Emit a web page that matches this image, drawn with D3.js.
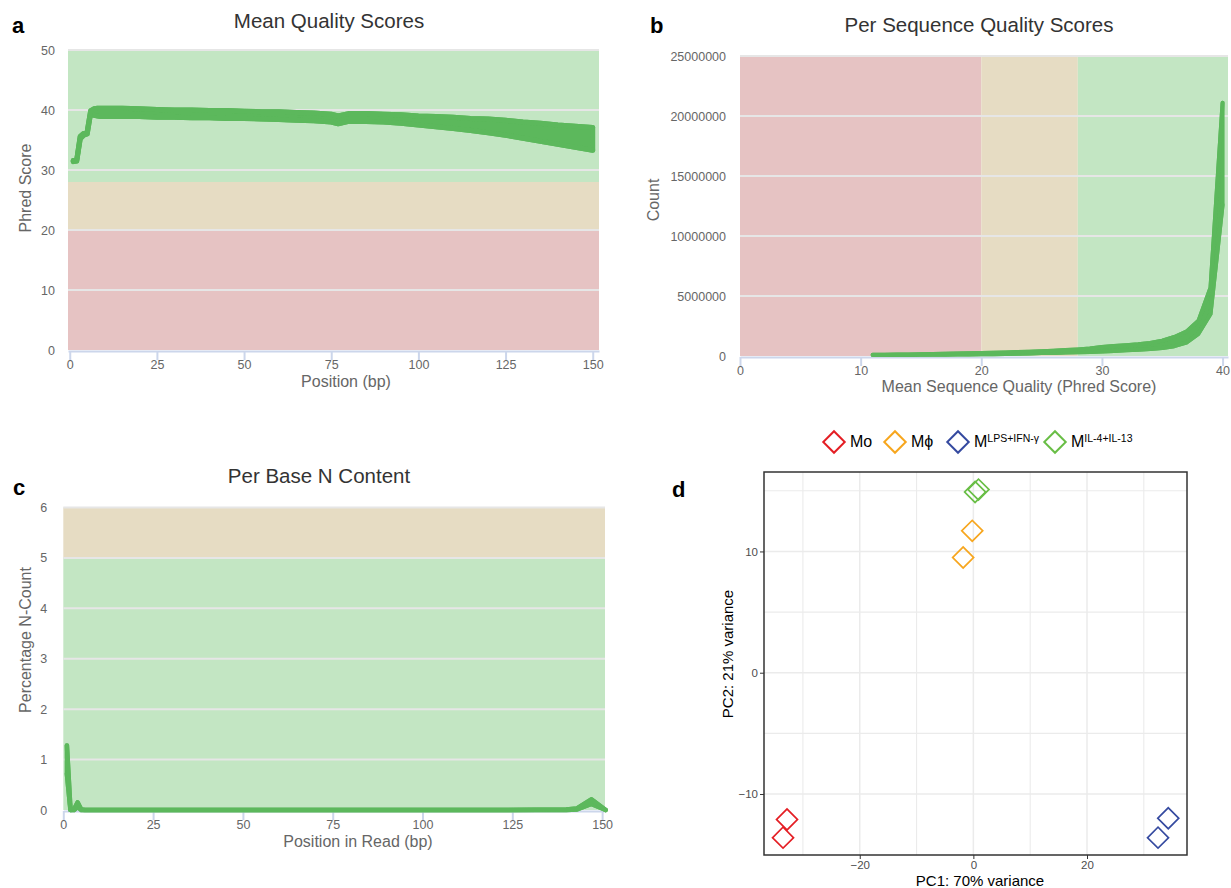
<!DOCTYPE html>
<html>
    <head>
        <meta charset="utf-8">
        <script src="https://d3js.org/d3.v7.min.js"></script>
        <style>
            body { margin: 0; background: #fff; }
            text { font-family: Arial, "Liberation Sans", Helvetica, sans-serif; }
        </style>
    </head>
    <body>

        <script>
            // ---- a: mean quality scores (two edge samples of the band)
            var qualPos  = [1, 2, 3, 4, 5, 6, 7, 8, 9, 10, 15, 20, 25, 30, 35, 40, 45, 50, 55, 60, 65, 70, 75, 77, 80, 85, 90, 95, 100, 105, 110, 115, 120, 125, 130, 135, 140, 145, 150];
            var qualHigh = [31.6, 31.7, 35.6, 36.1, 36.4, 39.9, 40.2, 40.3, 40.3, 40.3, 40.3, 40.2, 40.1, 40.0, 40.0, 39.9, 39.9, 39.8, 39.7, 39.7, 39.6, 39.5, 39.3, 39.0, 39.4, 39.4, 39.3, 39.2, 39.0, 38.9, 38.8, 38.6, 38.5, 38.3, 38.0, 37.8, 37.5, 37.3, 37.1];
            var qualLow  = [31.4, 31.5, 35.2, 35.8, 36.0, 39.5, 39.1, 39.0, 38.9, 38.9, 38.9, 38.9, 38.8, 38.8, 38.7, 38.7, 38.6, 38.6, 38.5, 38.4, 38.3, 38.2, 38.0, 37.7, 38.1, 38.1, 38.0, 37.8, 37.5, 37.2, 36.9, 36.6, 36.2, 35.8, 35.3, 34.8, 34.3, 33.8, 33.3];
            var qualBands = [0, 20, 28, 50];

            // ---- b: per sequence quality scores
            var seqScore = [11, 12, 13, 14, 15, 16, 17, 18, 19, 20, 21, 22, 23, 24, 25, 26, 27, 28, 29, 30, 31, 32, 33, 34, 35, 36, 37, 38, 39, 40];
            var seqHigh  = [1.0e5, 1.1e5, 1.2e5, 1.3e5, 1.5e5, 1.6e5, 1.8e5, 2.0e5, 2.2e5, 2.5e5, 2.7e5, 3.0e5, 3.3e5, 3.6e5, 4.0e5, 4.4e5, 4.9e5, 5.5e5, 6.3e5, 7.5e5, 8.4e5, 9.0e5, 9.7e5, 1.08e6, 1.28e6, 1.58e6, 2.03e6, 2.93e6, 5.7e6, 2.11e7];
            var seqLow   = [0.8e5, 0.8e5, 0.9e5, 0.9e5, 1.0e5, 1.0e5, 1.1e5, 1.2e5, 1.3e5, 1.4e5, 1.5e5, 1.7e5, 1.9e5, 2.1e5, 2.4e5, 2.6e5, 2.9e5, 3.1e5, 3.4e5, 3.8e5, 4.2e5, 4.7e5, 5.3e5, 5.9e5, 6.7e5, 8.2e5, 1.12e6, 1.85e6, 3.5e6, 1.26e7];
            var seqBands = [0, 20, 28, 40.45];

            // ---- c: per base N content
            var nPos  = [1, 2, 3, 4, 5, 6, 20, 40, 60, 80, 100, 120, 140, 143, 147, 151];
            var nHigh = [1.28, 0.0, 0.02, 0.15, 0.01, 0.0, 0.0, 0.0, 0.0, 0.0, 0.0, 0.0, 0.01, 0.03, 0.21, 0.0];
            var nLow  = [0.72, 0.0, 0.0, 0.06, 0.0, 0.0, 0.0, 0.0, 0.0, 0.0, 0.0, 0.0, 0.0, 0.01, 0.12, 0.0];
            var nBands = [0, 5, 6];

            // ---- d: PCA
            var groups      = ['Mo', 'Mϕ', 'M', 'M'];
            var groupSup    = ['', '', 'LPS+IFN-γ', 'IL-4+IL-13'];
            var groupColors = ['#e41e24', '#f7a61e', '#354aa0', '#69be46'];
            var pc1         = [-32.8, -33.5, -0.2, -1.8, 34.3, 32.5, 0.3, 0.9];
            var pc2         = [-12.1, -13.6, 11.7, 9.5, -12.0, -13.6, 14.9, 15.1];
            var sampleGroup = [0, 0, 1, 1, 2, 2, 3, 3];

            var GOOD = '#c3e6c3', WARN = '#e6dcc3', FAIL = '#e6c3c3', LINE = '#5cb85c';

            var svg = d3.select('body')
                        .append('svg')
                        .attr('width', 1231)
                        .attr('height', 888);

            // Highcharts-like MultiQC panel
            function qcPanel(o) {
                var g = svg.append('g');
                var xr = o.x.range(), yr = o.y.range();

                // plot bands (horizontal on y, or vertical on x)
                for (var i = 0; i < o.bands.length - 1; i++) {
                    var r = g.append('rect').attr('fill', o.bandColors[i]);
                    if (o.bandAxis === 'x') {
                        r.attr('x', o.x(o.bands[i]))
                         .attr('width', o.x(o.bands[i + 1]) - o.x(o.bands[i]))
                         .attr('y', yr[1])
                         .attr('height', yr[0] - yr[1]);
                    } else {
                        r.attr('x', xr[0])
                         .attr('width', xr[1] - xr[0])
                         .attr('y', o.y(o.bands[i + 1]))
                         .attr('height', o.y(o.bands[i]) - o.y(o.bands[i + 1]));
                    }
                }

                // grid lines
                g.selectAll('.grid')
                    .data(o.yTicks.filter(function(t) { return t > 0; }))
                    .enter().append('line')
                        .attr('x1', xr[0]).attr('x2', xr[1])
                        .attr('y1', function(d) { return o.y(d); })
                        .attr('y2', function(d) { return o.y(d); })
                        .attr('stroke', '#e6e6e6')
                        .attr('stroke-width', 2);

                // x axis
                var ax = g.append('g')
                    .attr('transform', 'translate(0,' + (yr[0] + 1) + ')')
                    .call(d3.axisBottom(o.x).tickValues(o.xTicks).tickSize(9).tickSizeOuter(0).tickPadding(0));
                ax.select('.domain').attr('stroke', '#ccd6eb').attr('stroke-width', 2);
                ax.selectAll('.tick line').attr('stroke', '#ccd6eb').attr('stroke-width', 2);
                ax.selectAll('.tick text').attr('fill', '#666').style('font-size', '12.5px');

                // data band, drawn over the axis line
                var area = d3.area()
                    .x(function(d) { return o.x(d[0]); })
                    .y0(function(d) { return o.y(d[1]); })
                    .y1(function(d) { return o.y(d[2]); });
                var rows = o.xs.map(function(v, i) { return [v, o.low[i], o.high[i]]; });
                g.append('path')
                    .attr('d', area(rows))
                    .attr('fill', LINE)
                    .attr('stroke', LINE)
                    .attr('stroke-width', o.lineWidth)
                    .attr('stroke-linejoin', 'round');
                [o.low, o.high].forEach(function(s) {
                    var line = d3.line()
                        .x(function(d, i) { return o.x(o.xs[i]); })
                        .y(function(d) { return o.y(d); });
                    g.append('path')
                        .attr('d', line(s))
                        .attr('fill', 'none')
                        .attr('stroke', LINE)
                        .attr('stroke-width', o.lineWidth)
                        .attr('stroke-linejoin', 'round')
                        .attr('stroke-linecap', 'round');
                });

                // y axis labels
                var ay = g.append('g')
                    .attr('transform', 'translate(' + xr[0] + ',0)')
                    .call(d3.axisLeft(o.y).tickValues(o.yTicks).tickSize(0).tickPadding(o.yPad).tickFormat(d3.format('d')));
                ay.select('.domain').remove();
                ay.selectAll('.tick text').attr('fill', '#666').style('font-size', '12.5px');

                // titles
                g.append('text')
                    .attr('x', o.titleX).attr('y', o.titleY)
                    .attr('text-anchor', 'middle')
                    .attr('fill', '#333')
                    .style('font-size', '20.5px')
                    .text(o.title);
                g.append('text')
                    .attr('x', o.xTitleX).attr('y', o.xTitleY)
                    .attr('text-anchor', 'middle')
                    .attr('fill', '#666')
                    .style('font-size', '16px')
                    .text(o.xTitle);
                g.append('text')
                    .attr('transform', 'translate(' + o.yTitleX + ',' + o.yTitleY + ') rotate(-90)')
                    .attr('text-anchor', 'middle')
                    .attr('fill', '#666')
                    .style('font-size', '16px')
                    .text(o.yTitle);
            }

            // a
            qcPanel({
                x: d3.scaleLinear().domain([-0.5, 151.8]).range([68, 599]),
                y: d3.scaleLinear().domain([0, 50]).range([350, 50]),
                xs: qualPos, high: qualHigh, low: qualLow, lineWidth: 5,
                bands: qualBands, bandColors: [FAIL, WARN, GOOD],
                xTicks: d3.range(0, 151, 25), yTicks: d3.range(0, 51, 10), yPad: 13,
                title: 'Mean Quality Scores', titleX: 329, titleY: 28,
                xTitle: 'Position (bp)', xTitleX: 346, xTitleY: 387,
                yTitle: 'Phred Score', yTitleX: 31, yTitleY: 188
            });

            // b
            qcPanel({
                x: d3.scaleLinear().domain([0, 40.45]).range([740, 1228]),
                y: d3.scaleLinear().domain([0, 25000000]).range([356, 56]),
                xs: seqScore, high: seqHigh, low: seqLow, lineWidth: 4,
                bands: seqBands, bandColors: [FAIL, WARN, GOOD], bandAxis: 'x',
                xTicks: d3.range(0, 41, 10), yTicks: d3.range(0, 25000001, 5000000), yPad: 14,
                title: 'Per Sequence Quality Scores', titleX: 979, titleY: 32,
                xTitle: 'Mean Sequence Quality (Phred Score)', xTitleX: 1019, xTitleY: 392,
                yTitle: 'Count', yTitleX: 659, yTitleY: 200
            });

            // c
            qcPanel({
                x: d3.scaleLinear().domain([0, 150.8]).range([63.3, 605]),
                y: d3.scaleLinear().domain([0, 6]).range([810, 507.5]),
                xs: nPos, high: nHigh, low: nLow, lineWidth: 4.5,
                bands: nBands, bandColors: [GOOD, WARN],
                xTicks: d3.range(0, 151, 25), yTicks: d3.range(0, 7, 1), yPad: 16,
                title: 'Per Base N Content', titleX: 319, titleY: 483,
                xTitle: 'Position in Read (bp)', xTitleX: 358, xTitleY: 847,
                yTitle: 'Percentage N-Count', yTitleX: 31, yTitleY: 640
            });

            // d: ggplot-like PCA
            var xD = d3.scaleLinear().domain([-36.85, 37.6]).range([764, 1187]);
            var yD = d3.scaleLinear().domain([-15.03, 16.55]).range([855, 472]);
            var gd = svg.append('g');

            gd.selectAll('.vgrid')
                .data([-30, -20, -10, 0, 10, 20, 30])
                .enter().append('line')
                    .attr('x1', xD).attr('x2', xD)
                    .attr('y1', 472).attr('y2', 855)
                    .attr('stroke', '#ebebeb')
                    .attr('stroke-width', function(d) { return d % 20 === 0 ? 1.5 : 1.1; });
            gd.selectAll('.hgrid')
                .data([-10, -5, 0, 5, 10, 15])
                .enter().append('line')
                    .attr('y1', yD).attr('y2', yD)
                    .attr('x1', 764).attr('x2', 1187)
                    .attr('stroke', '#ebebeb')
                    .attr('stroke-width', function(d) { return d % 10 === 0 ? 1.5 : 1.1; });

            var diamond = d3.symbol().type(d3.symbolSquare).size(220);
            gd.selectAll('.pt')
                .data(pc1)
                .enter().append('path')
                    .attr('d', diamond)
                    .attr('transform', function(d, i) { return 'translate(' + xD(d) + ',' + yD(pc2[i]) + ') rotate(45)'; })
                    .attr('fill', 'none')
                    .attr('stroke', function(d, i) { return groupColors[sampleGroup[i]]; })
                    .attr('stroke-width', 1.7);

            gd.append('rect')
                .attr('x', 764).attr('y', 472)
                .attr('width', 1187 - 764).attr('height', 855 - 472)
                .attr('fill', 'none')
                .attr('stroke', '#333')
                .attr('stroke-width', 1.5);

            var dx = gd.append('g')
                .attr('transform', 'translate(0,855)')
                .call(d3.axisBottom(xD).tickValues([-20, 0, 20]).tickSize(4).tickSizeOuter(0).tickPadding(2));
            dx.select('.domain').remove();
            dx.selectAll('.tick line').attr('stroke', '#333');
            dx.selectAll('.tick text').attr('fill', '#4d4d4d').style('font-size', '11.5px');

            var dy = gd.append('g')
                .attr('transform', 'translate(764,0)')
                .call(d3.axisLeft(yD).tickValues([-10, 0, 10]).tickSize(4).tickSizeOuter(0).tickPadding(2));
            dy.select('.domain').remove();
            dy.selectAll('.tick line').attr('stroke', '#333');
            dy.selectAll('.tick text').attr('fill', '#4d4d4d').style('font-size', '11.5px');

            gd.append('text')
                .attr('x', 980).attr('y', 886)
                .attr('text-anchor', 'middle')
                .style('font-size', '15px')
                .text('PC1: 70% variance');
            gd.append('text')
                .attr('transform', 'translate(733,654) rotate(-90)')
                .attr('text-anchor', 'middle')
                .style('font-size', '15px')
                .text('PC2: 21% variance');

            // legend
            var legX = [834, 895, 958, 1055];
            var leg = gd.selectAll('.leg')
                .data(groups)
                .enter().append('g')
                    .attr('transform', function(d, i) { return 'translate(' + legX[i] + ',442)'; });
            leg.append('path')
                .attr('d', d3.symbol().type(d3.symbolSquare).size(230))
                .attr('transform', 'rotate(45)')
                .attr('fill', 'none')
                .attr('stroke', function(d, i) { return groupColors[i]; })
                .attr('stroke-width', 2);
            var lt = leg.append('text')
                .attr('x', 16).attr('y', 5)
                .style('font-size', '16px');
            lt.append('tspan').text(function(d) { return d; });
            lt.append('tspan')
                .attr('dy', -5.5)
                .style('font-size', '10.5px')
                .text(function(d, i) { return groupSup[i]; });

            // panel letters
            [['a', 12, 33], ['b', 650, 33], ['c', 13, 495], ['d', 672, 497]].forEach(function(p) {
                svg.append('text')
                    .attr('x', p[1]).attr('y', p[2])
                    .style('font-size', '22px')
                    .style('font-weight', 'bold')
                    .text(p[0]);
            });
        </script>
    </body>
</html>
